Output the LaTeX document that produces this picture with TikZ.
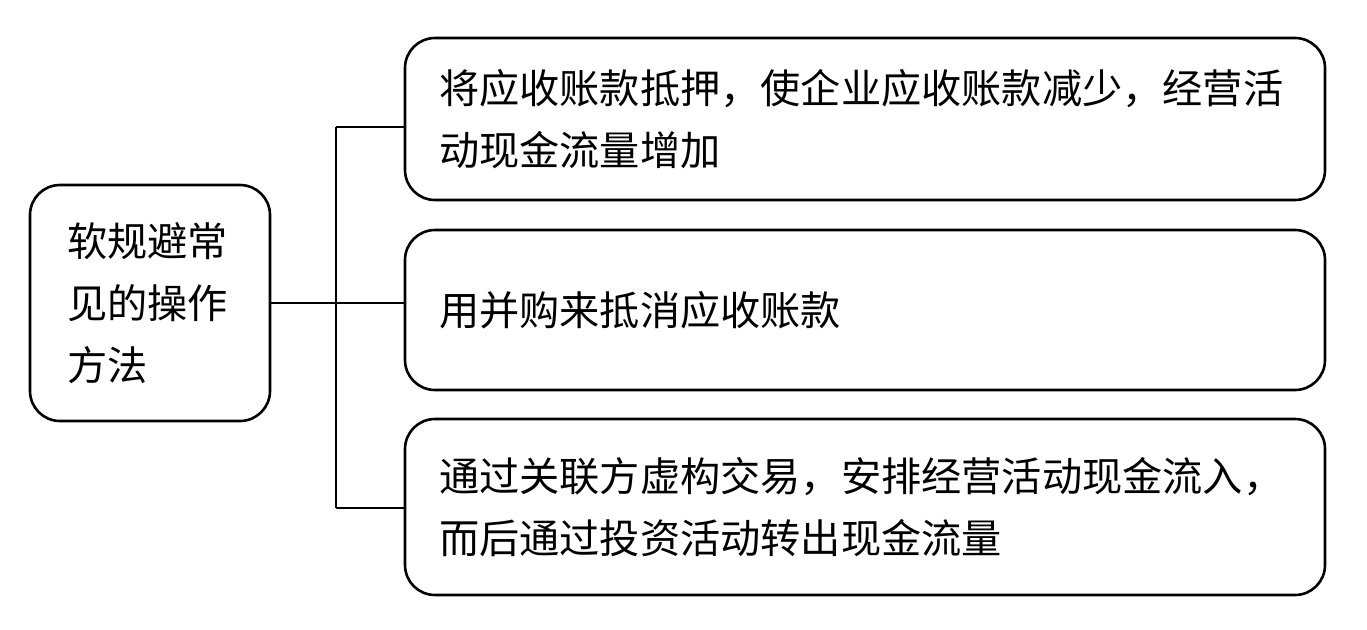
\documentclass[tikz,border=0pt]{standalone}
\usepackage{fontspec}
\newfontfamily\cjk{Noto Sans CJK SC}
\begin{document}
\begin{tikzpicture}[x=1pt,y=-1pt,
  box/.style={draw=black, line width=2.6pt, rounded corners=30pt, inner sep=0pt,
    align=left, font=\cjk\fontsize{40.2}{62}\selectfont},
  conn/.style={draw=black, line width=2.6pt}]
\useasboundingbox[fill=white] (0,0) rectangle (1367,629);
\node[box, minimum width=240pt, minimum height=236pt, text width=166pt] (L) at (150,303) {软规避常\\见的操作\\方法};
\node[box, minimum width=920pt, minimum height=162pt, text width=852pt] (B1) at (865,119) {将应收账款抵押，使企业应收账款减少，经营活\\动现金流量增加};
\node[box, minimum width=920pt, minimum height=160pt, text width=852pt] (B2) at (865,310) {用并购来抵消应收账款};
\node[box, minimum width=920pt, minimum height=176pt, text width=852pt] (B3) at (865,507) {通过关联方虚构交易，安排经营活动现金流入，\\而后通过投资活动转出现金流量};
\coordinate (J) at (336,303);
\coordinate (T) at (336,127);
\coordinate (Bt) at (336,508);
\draw[conn] (L.east) -- (J);
\draw[conn] (T) -- (Bt);
\draw[conn] (T) -- (T -| B1.west);
\draw[conn] (J) -- (J -| B2.west);
\draw[conn] (Bt) -- (Bt -| B3.west);
\end{tikzpicture}
\end{document}
